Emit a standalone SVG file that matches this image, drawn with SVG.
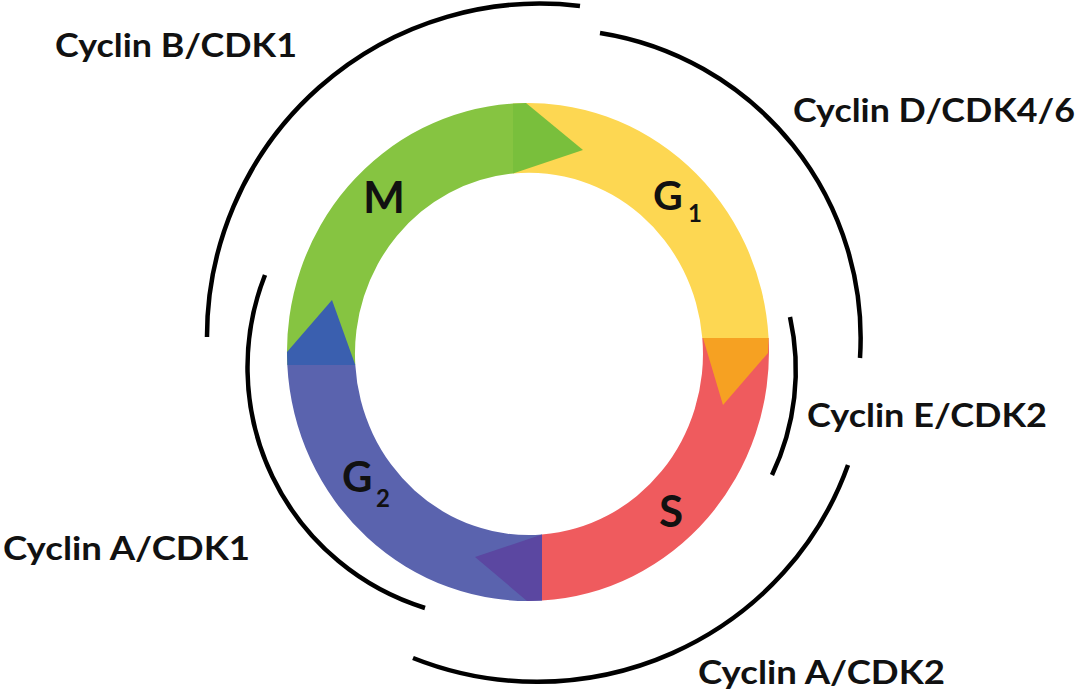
<svg xmlns="http://www.w3.org/2000/svg" width="1080" height="695" viewBox="0 0 1080 695">
<style>
.arc{fill:none;stroke:#000;stroke-width:4.5;stroke-linecap:butt}
.lbl{font-family:Lato,"Open Sans","Liberation Sans",sans-serif;font-weight:700;font-size:32px;fill:#111}
.ph{font-family:Lato,"Open Sans","Liberation Sans",sans-serif;font-weight:700;fill:#111}
</style>
<rect width="1080" height="695" fill="#fff"/>
<g id="phase-G1">
<path d="M513,103.5 A241,249 0 0 1 768.6,338 L702.3,338 A174,181 0 0 0 513,173.5 Z" fill="#FDD752"/>
</g>
<g id="phase-S">
<path d="M768.6,338 A241,249 0 0 1 542,600.6 L542,534.5 A174,181 0 0 0 702.3,338 Z" fill="#EF5B5E"/>
<polygon points="703,338 768.6,338 768,353 723,405" fill="#F6A122"/>
</g>
<g id="phase-G2">
<path d="M542,600.6 A241,249 0 0 1 287.3,365 L355.3,365 A174,181 0 0 0 542,534.5 Z" fill="#5A63AE"/>
<polygon points="475,557 542,534.5 542,600.6 527,601" fill="#5B47A1"/>
</g>
<g id="phase-M">
<path d="M287.3,365 A241,249 0 0 1 513,103.5 L513,173.5 A174,181 0 0 0 355.3,365 Z" fill="#86C441"/>
<polygon points="513,103.5 526,103 583,150 513,173.5" fill="#79BF3C"/>
<polygon points="287.3,365 287,352 332,300 355.3,365" fill="#3A5FAF"/>
</g>
<g id="labels-phases">
<text class="ph" x="363" y="213" font-size="43" textLength="42" lengthAdjust="spacingAndGlyphs">M</text>
<text class="ph" font-size="41"><tspan x="653" y="210">G</tspan><tspan x="688" y="222" font-size="24">1</tspan></text>
<text class="ph" font-size="42"><tspan x="342" y="492">G</tspan><tspan x="376" y="507" font-size="24">2</tspan></text>
<text class="ph" x="659" y="527" font-size="44">S</text>
</g>
<g id="connectors">
<path class="arc" d="M207,337 A333,333 0 0 1 580,6"/>
<path class="arc" d="M600,33 A309,309 0 0 1 860,358"/>
<path class="arc" d="M790,317 A244,244 0 0 1 772,475"/>
<path class="arc" d="M848,465 A330,325 0 0 1 413,658"/>
<path class="arc" d="M425,608 A252,252 0 0 1 265,275"/>
</g>
<g id="cyclin-B">
<text class="lbl" x="55" y="57" textLength="242" lengthAdjust="spacingAndGlyphs">Cyclin B/CDK1</text>
</g>
<g id="cyclin-D">
<text class="lbl" x="793" y="122" textLength="282" lengthAdjust="spacingAndGlyphs">Cyclin D/CDK4/6</text>
</g>
<g id="cyclin-E">
<text class="lbl" x="807" y="427" textLength="240" lengthAdjust="spacingAndGlyphs">Cyclin E/CDK2</text>
</g>
<g id="cyclin-A1">
<text class="lbl" x="3" y="560" textLength="247" lengthAdjust="spacingAndGlyphs">Cyclin A/CDK1</text>
</g>
<g id="cyclin-A2">
<text class="lbl" x="698" y="684" textLength="247" lengthAdjust="spacingAndGlyphs">Cyclin A/CDK2</text>
</g>
</svg>
